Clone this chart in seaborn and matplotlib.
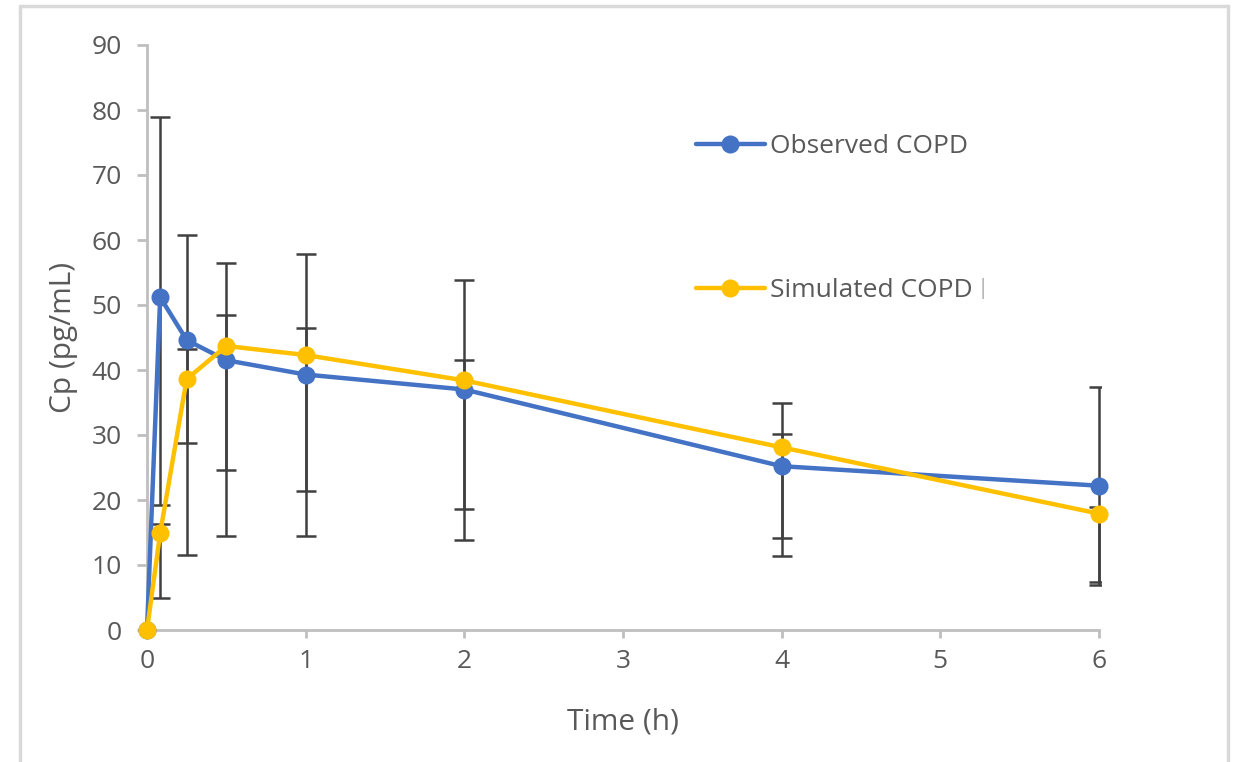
import numpy as np
import pandas as pd
import matplotlib
matplotlib.use("Agg")
import matplotlib.pyplot as plt
from matplotlib.lines import Line2D
from matplotlib.patches import Rectangle
import seaborn as sns

# ---- data ----
time_h = [0, 0.083, 0.25, 0.5, 1, 2, 4, 6]
observed = [0, 51.2, 44.6, 41.5, 39.3, 37.0, 25.2, 22.2]
simulated = [0, 14.9, 38.6, 43.7, 42.3, 38.4, 28.1, 17.9]
obs_upper = [np.nan, 79.0, 60.7, 56.4, 57.9, 53.9, 34.9, 37.4]
obs_lower = [np.nan, 19.3, 28.8, 24.6, 21.4, 18.6, 14.1, 7.4]
sim_upper = [np.nan, 16.3, 43.2, 48.4, 46.4, 41.6, 30.1, 19.0]
sim_lower = [np.nan, 4.9, 11.6, 14.4, 14.4, 13.9, 11.4, 6.9]
series_names = ["Observed COPD", "Simulated COPD"]
colors = ["#4472C4", "#FFC000"]
x_ticks = [0, 1, 2, 3, 4, 5, 6]
y_ticks = [0, 10, 20, 30, 40, 50, 60, 70, 80, 90]

sns.set_theme(style="white")
plt.rcParams['font.family'] = ['Open Sans', 'DejaVu Sans']

W, H = 1235, 762
fig = plt.figure(figsize=(W / 100, H / 100), dpi=100)
ax_w_px = 1099 - 147
ax = fig.add_axes([147 / W, 1 - 630 / H, ax_w_px / W, (630 - 45) / H])

df = pd.DataFrame({
    "Time": time_h * 2,
    "Cp": observed + simulated,
    "Series": [series_names[0]] * len(time_h) + [series_names[1]] * len(time_h),
})

# clip region: plot area, extended a hair on the right (caps at t=6 are cut)
clip_rect = Rectangle((-0.2, -0.2), 1.2 + 2.0 / ax_w_px, 1.4,
                      transform=ax.transAxes, visible=False)

# error bars (behind)
err_col = "#404040"
for mean, lo, up in [(observed, obs_lower, obs_upper), (simulated, sim_lower, sim_upper)]:
    m = np.array(mean, dtype=float)
    lo_a = np.array(lo, dtype=float)
    up_a = np.array(up, dtype=float)
    mask = ~np.isnan(lo_a)
    cont = ax.errorbar(np.array(time_h)[mask], m[mask],
                       yerr=[m[mask] - lo_a[mask], up_a[mask] - m[mask]],
                       fmt="none", ecolor=err_col, elinewidth=1.8, capsize=7,
                       capthick=1.8, zorder=2)
    for caps in cont.lines[1]:
        caps.set_clip_on(True)
        caps.set_clip_path(clip_rect)
    for coll in cont.lines[2]:
        coll.set_clip_on(True)
        coll.set_clip_path(clip_rect)

sns.lineplot(data=df, x="Time", y="Cp", hue="Series", palette=colors,
             marker="o", markersize=13, markeredgewidth=0, linewidth=3.2,
             ax=ax, legend=False, zorder=3)
for ln in ax.lines:
    if ln.get_marker() == "o":
        ln.set_clip_on(False)

ax.set_xlim(0, 6)
ax.set_ylim(0, 90)
ax.set_xticks(x_ticks)
ax.set_yticks(y_ticks)
ax.set_xticklabels([str(v) for v in x_ticks])
ax.set_yticklabels([str(v) for v in y_ticks])

tick_col = "#595959"
spine_col = "#BFBFBF"
for s in ["top", "right"]:
    ax.spines[s].set_visible(False)
for s in ["left", "bottom"]:
    ax.spines[s].set_color(spine_col)
    ax.spines[s].set_linewidth(2)
ax.tick_params(axis="y", direction="out", length=7, width=2, color=spine_col,
               labelsize=19, labelcolor=tick_col, pad=11, left=True)
ax.tick_params(axis="x", direction="out", length=6, width=2, color=spine_col,
               labelsize=19, labelcolor=tick_col, pad=8, bottom=True)
ax.grid(False)

ax.set_xlabel("Time (h)", fontsize=21.5, color=tick_col, labelpad=24)
ax.set_ylabel("Cp (pg/mL)", fontsize=21.5, color=tick_col, labelpad=10)

handles = [Line2D([0], [0], color=c, lw=3.2, marker="o", markersize=13,
                  markeredgewidth=0) for c in colors]
leg = ax.legend(handles, series_names, loc="upper left",
                bbox_to_anchor=(696 / W, 1 - 134 / H), bbox_transform=fig.transFigure,
                frameon=False, fontsize=19, labelcolor=tick_col,
                handlelength=2.6, handletextpad=0.2, labelspacing=4.5,
                borderpad=0, borderaxespad=0)
fig.text(983 / W, 1 - 289 / H, "|", fontsize=16, color="#B0B0B0",
         ha="center", va="center")

# chart frame
frame_col = "#D9D9D9"
fig.add_artist(Line2D([20 / W, 20 / W], [0, 1 - 6 / H], color=frame_col, lw=2.5,
                      transform=fig.transFigure))
fig.add_artist(Line2D([20 / W, 1228 / W], [1 - 6 / H, 1 - 6 / H], color=frame_col,
                      lw=2.5, transform=fig.transFigure))
fig.add_artist(Line2D([1228 / W, 1228 / W], [0, 1 - 6 / H], color=frame_col, lw=2.5,
                      transform=fig.transFigure))

fig.savefig("out.png", dpi=100, facecolor="white")
